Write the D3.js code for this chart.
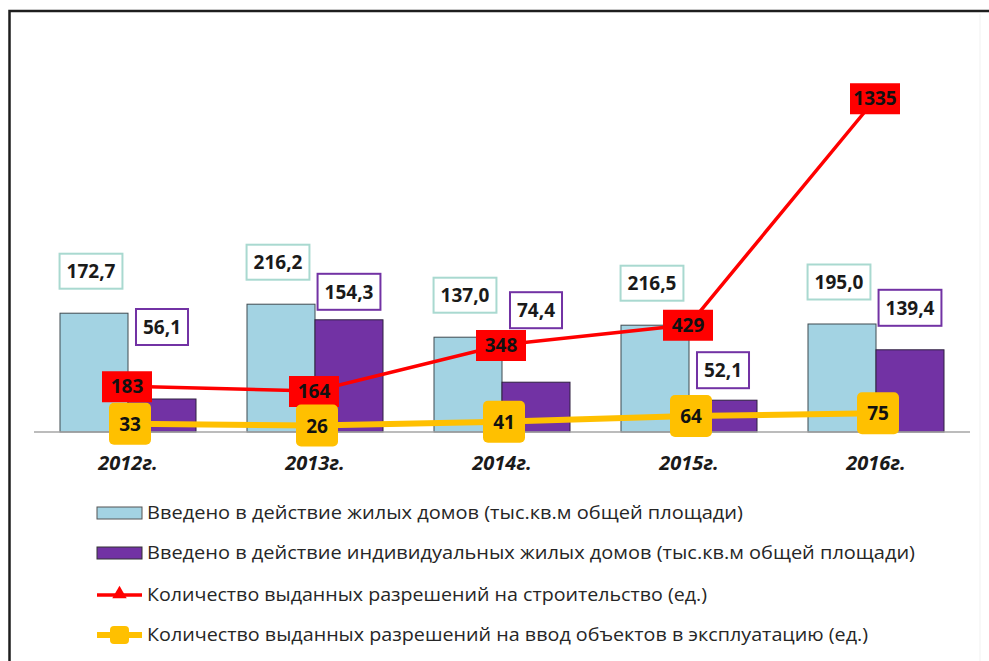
<!DOCTYPE html>
<html>
<head>
<meta charset="utf-8">
<script src="https://cdn.jsdelivr.net/npm/d3@7"></script>
<style>
  body { margin: 0; background: #fff; }
  svg { display: block; }
</style>
</head>
<body>
<div id="chart"></div>
<script>
// years on the x axis
var years = ["2012г.", "2013г.", "2014г.", "2015г.", "2016г."];

// housing put into use, thousand sq.m (printed labels)
var housingTotal = [172.7, 216.2, 137.0, 216.5, 195.0];
var housingIndividual = [56.1, 154.3, 74.4, 52.1, 139.4];
// bar heights as drawn in the source (same units, they don't match the labels)
var housingTotalBar = [198, 213, 158, 178, 180];
var housingIndividualBar = [55, 187, 83, 53, 137];

// permits issued, units
var buildPermits = [183, 164, 348, 429, 1335];
var usePermits = [33, 26, 41, 64, 75];

var legendText = [
    "Введено в действие жилых домов (тыс.кв.м общей площади)",
    "Введено в действие индивидуальных жилых домов (тыс.кв.м общей площади)",
    "Количество выданных разрешений на строительство (ед.)",
    "Количество выданных разрешений на ввод объектов в эксплуатацию (ед.)"
];

var W = 989, H = 661;
var baseY = 432;
var blue = "#a3d3e3", purple = "#7232a4", red = "#ff0000", gold = "#ffc000";
var font = "'Open Sans', 'DejaVu Sans', sans-serif";

// purple labels were dragged around by hand in the source
var indLabelLift = [72, 28, 72, 30, 42];

var svg = d3.select("#chart").append("svg")
    .attr("width", W).attr("height", H);

svg.append("rect").attr("width", W).attr("height", H).attr("fill", "#fff");
// frame of the pasted picture
svg.append("path")
    .attr("d", "M9.5," + H + "V11H" + W)
    .attr("fill", "none").attr("stroke", "#1e1e1e").attr("stroke-width", 2.5);
svg.append("line")
    .attr("x1", 980).attr("x2", 980).attr("y1", 14).attr("y2", H)
    .attr("stroke", "#f1f1f1").attr("stroke-width", 1);

var x0 = d3.scaleBand().domain(years).range([34.5, 969.5]).padding(0);
var x1 = d3.scaleBand().domain(["total", "ind"]).range([25.5, 161.5]).padding(0);
var yBar = d3.scaleLinear().domain([0, 250]).range([baseY, baseY - 150]);
var yLine = d3.scaleLinear().domain([0, 1400]).range([baseY, baseY - 350]);
var cx = function(i){ return x0(years[i]) + x0.bandwidth() / 2; };

// bars
var groups = svg.selectAll(".grp")
    .data(years)
    .enter().append("g")
    .attr("class", "grp")
    .attr("transform", function(d){ return "translate(" + x0(d) + ",0)"; });

groups.append("rect")
    .attr("x", x1("total"))
    .attr("width", x1.bandwidth())
    .attr("y", function(d, i){ return yBar(housingTotalBar[i]); })
    .attr("height", function(d, i){ return baseY - yBar(housingTotalBar[i]); })
    .attr("fill", blue).attr("stroke", "#3f4a50").attr("stroke-width", 1);

groups.append("rect")
    .attr("x", x1("ind"))
    .attr("width", x1.bandwidth())
    .attr("y", function(d, i){ return yBar(housingIndividualBar[i]); })
    .attr("height", function(d, i){ return baseY - yBar(housingIndividualBar[i]); })
    .attr("fill", purple).attr("stroke", "#2e2040").attr("stroke-width", 1);

// axis baseline
svg.append("line")
    .attr("x1", 34).attr("x2", 970).attr("y1", baseY).attr("y2", baseY)
    .attr("stroke", "#a6a6a6").attr("stroke-width", 1.5);

// x labels
svg.selectAll(".xlab")
    .data(years)
    .enter().append("text")
    .attr("class", "xlab")
    .attr("x", function(d, i){ return cx(i); })
    .attr("y", 470)
    .attr("text-anchor", "middle")
    .attr("font-family", font)
    .attr("font-size", "20px")
    .attr("font-weight", "bold")
    .attr("font-style", "italic")
    .attr("fill", "#1a1a1a")
    .text(function(d){ return d; });

function fmt(v){ return v.toFixed(1).replace(".", ","); }

function boxLabel(x, y, txt, stroke, h){
    var g = svg.append("g");
    var r = g.append("rect").attr("fill", "#fff").attr("stroke", stroke).attr("stroke-width", 2);
    var t = g.append("text")
        .attr("x", x).attr("y", y + 7)
        .attr("text-anchor", "middle")
        .attr("font-family", font).attr("font-size", "19px").attr("font-weight", "bold")
        .attr("fill", "#1a1a1a")
        .text(txt);
    var w = t.node().getComputedTextLength() + 14;
    r.attr("x", x - w / 2).attr("y", y - h / 2).attr("width", w).attr("height", h);
}

housingTotal.forEach(function(v, i){
    var bx = x0(years[i]) + x1("total") + x1.bandwidth() / 2 - 3;
    boxLabel(bx, yBar(housingTotalBar[i]) - 42, fmt(v), "#a9d9d0", 35);
});
housingIndividual.forEach(function(v, i){
    var bx = x0(years[i]) + x1("ind") + x1.bandwidth() / 2;
    boxLabel(bx, yBar(housingIndividualBar[i]) - indLabelLift[i], fmt(v), purple, 36);
});

// lines
var line = d3.line()
    .x(function(d, i){ return cx(i); })
    .y(function(d){ return yLine(d); });

svg.append("path").datum(buildPermits)
    .attr("d", line).attr("fill", "none")
    .attr("stroke", red).attr("stroke-width", 3.5);

svg.append("path").datum(usePermits)
    .attr("d", line).attr("fill", "none")
    .attr("stroke", gold).attr("stroke-width", 6);

// red labels
var rl = svg.selectAll(".rlab").data(buildPermits).enter().append("g").attr("class", "rlab");
rl.append("rect")
    .attr("x", function(d, i){ return cx(i) - 26; })
    .attr("y", function(d){ return yLine(d) - 15; })
    .attr("width", 50).attr("height", 31)
    .attr("fill", red);
rl.append("text")
    .attr("x", function(d, i){ return cx(i) - 1; })
    .attr("y", function(d){ return yLine(d) + 7; })
    .attr("text-anchor", "middle")
    .attr("font-family", font).attr("font-size", "19px").attr("font-weight", "bold")
    .attr("fill", "#111")
    .text(function(d){ return d; });

// gold labels
var yl = svg.selectAll(".ylab").data(usePermits).enter().append("g").attr("class", "ylab");
yl.append("rect")
    .attr("x", function(d, i){ return cx(i) - 19; })
    .attr("y", function(d){ return yLine(d) - 21; })
    .attr("width", 42).attr("height", 42).attr("rx", 5)
    .attr("fill", gold);
yl.append("text")
    .attr("x", function(d, i){ return cx(i) + 2; })
    .attr("y", function(d){ return yLine(d) + 7; })
    .attr("text-anchor", "middle")
    .attr("font-family", font).attr("font-size", "19px").attr("font-weight", "bold")
    .attr("fill", "#111")
    .text(function(d){ return d; });

// legend
var legY = [513, 553, 595, 635];
var legW = [596, 768, 560, 721];
var leg = svg.selectAll(".leg").data(legendText).enter().append("g").attr("class", "leg");
leg.append("text")
    .attr("x", 147)
    .attr("y", function(d, i){ return legY[i] + 6; })
    .attr("font-family", font).attr("font-size", "19px")
    .attr("fill", "#262626")
    .attr("textLength", function(d, i){ return legW[i]; })
    .attr("lengthAdjust", "spacingAndGlyphs")
    .text(function(d){ return d; });

svg.append("rect").attr("x", 97).attr("y", legY[0] - 6).attr("width", 45).attr("height", 12)
    .attr("fill", blue).attr("stroke", "#555").attr("stroke-width", 1);
svg.append("rect").attr("x", 97).attr("y", legY[1] - 6).attr("width", 45).attr("height", 12)
    .attr("fill", purple).attr("stroke", "#333").attr("stroke-width", 1);
svg.append("line").attr("x1", 97).attr("x2", 142).attr("y1", legY[2]).attr("y2", legY[2])
    .attr("stroke", red).attr("stroke-width", 3.5);
svg.append("path")
    .attr("d", d3.symbol().type(d3.symbolTriangle).size(90)())
    .attr("transform", "translate(119.5," + (legY[2] - 1) + ")")
    .attr("fill", red);
svg.append("line").attr("x1", 97).attr("x2", 142).attr("y1", legY[3]).attr("y2", legY[3])
    .attr("stroke", gold).attr("stroke-width", 6);
svg.append("rect").attr("x", 110).attr("y", legY[3] - 9).attr("width", 19).attr("height", 18)
    .attr("rx", 4).attr("fill", gold);
</script>
</body>
</html>
